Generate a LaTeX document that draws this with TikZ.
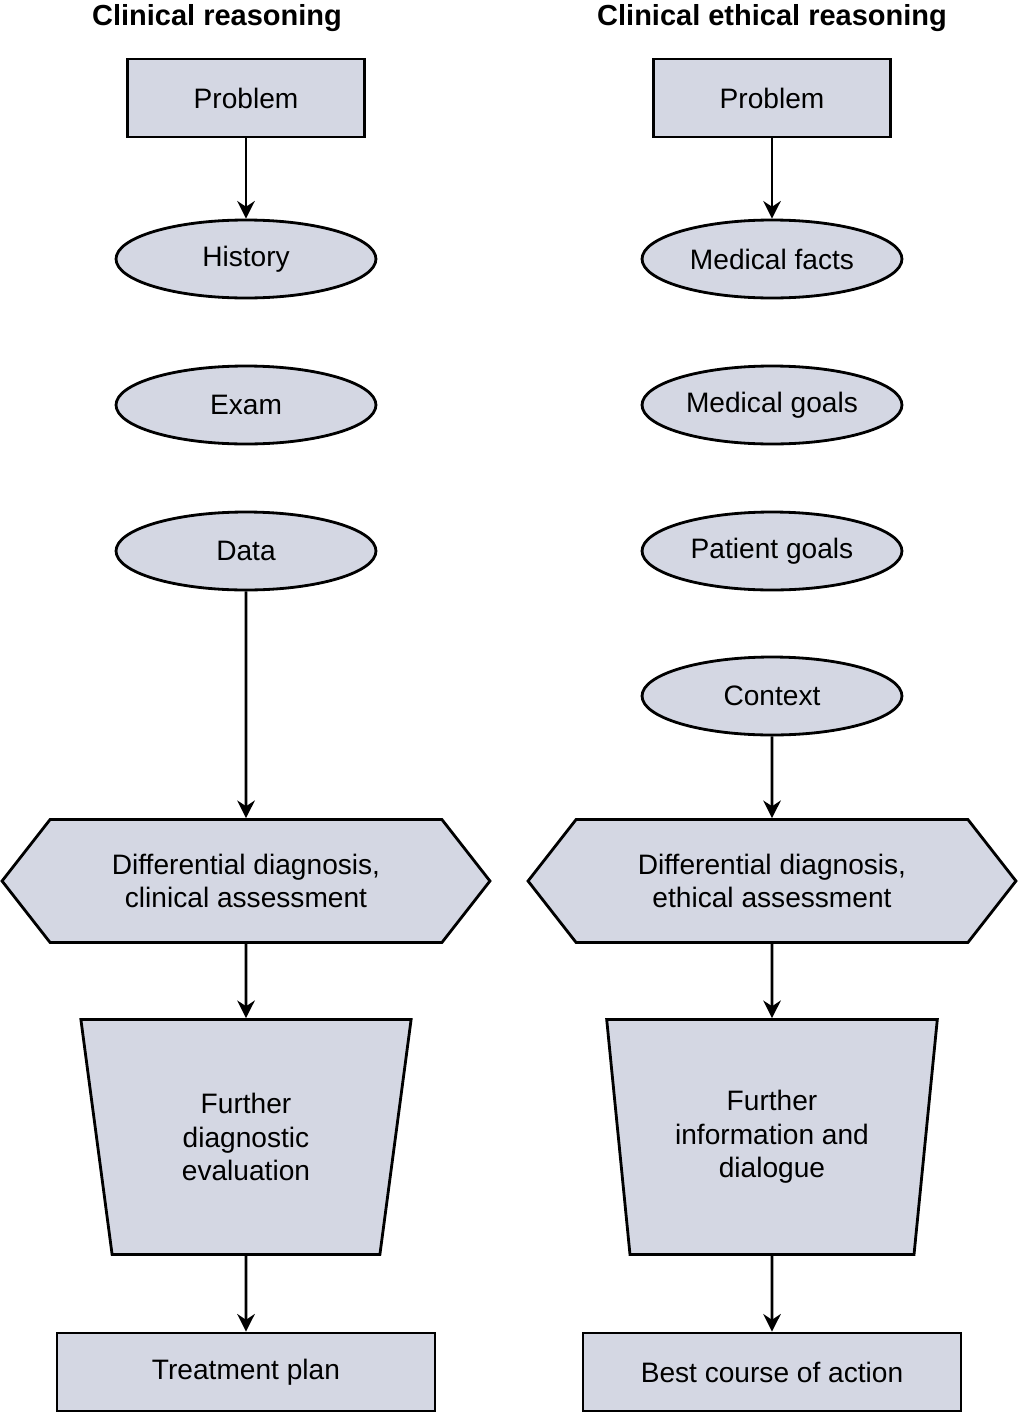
\documentclass[tikz,border=0pt]{standalone}
\usepackage{fontspec}
\setmainfont{Liberation Sans}
\usetikzlibrary{shapes.geometric,shapes.symbols,arrows.meta}
\definecolor{boxfill}{RGB}{212,215,227}
\begin{document}
\begin{tikzpicture}[x=0.02cm,y=-0.02cm,
    every node/.style={font=\fontsize{16}{19}\selectfont, align=center, draw, line width=1.6pt, fill=boxfill, inner sep=0pt},
    title/.style={draw=none, fill=none, font=\fontsize{16.5}{19}\selectfont\bfseries},
    rect/.style={rectangle, minimum width=4.74cm, minimum height=1.56cm},
    oval/.style={ellipse, minimum width=5.2cm, minimum height=1.56cm},
    hex/.style={signal, signal to=west and east, signal pointer angle=104, minimum width=9.76cm, minimum height=2.46cm},
    trap/.style={trapezium, shape border rotate=180, trapezium angle=80.3, trapezium stretches=true, minimum width=6.62cm, minimum height=4.7cm},
    final/.style={rectangle, minimum width=7.56cm, minimum height=1.56cm},
    link/.style={line width=1.6pt, -{Stealth[length=10pt,width=10pt]}}]
    \useasboundingbox (0,0) rectangle (1018,1413);

    % clinical reasoning
    \node[title] (ltitle) at (217,18) {Clinical reasoning};
    \node[rect] (lprob) at (246,98) {Problem};
    \node[oval] (lhist) at (246,259) {History};
    \node[oval] (lexam) at (246,405) {Exam};
    \node[oval] (ldata) at (246,551) {Data};
    \node[hex] (ldiff) at (246,881) {Differential diagnosis,\\clinical assessment};
    \node[trap] (lfurth) at (246,1137) {Further\\diagnostic\\evaluation};
    \node[final] (lplan) at (246,1372) {Treatment plan};

    \draw[link] (lprob) -- (lhist);
    \draw[link] (ldata) -- (ldiff);
    \draw[link] (ldiff) -- (lfurth);
    \draw[link] (lfurth) -- (lplan);

    % clinical ethical reasoning
    \node[title] (rtitle) at (772,18) {Clinical ethical reasoning};
    \node[rect] (rprob) at (772,98) {Problem};
    \node[oval] (rfacts) at (772,259) {Medical facts};
    \node[oval] (rmgoals) at (772,405) {Medical goals};
    \node[oval] (rpgoals) at (772,551) {Patient goals};
    \node[oval] (rctx) at (772,696) {Context};
    \node[hex] (rdiff) at (772,881) {Differential diagnosis,\\ethical assessment};
    \node[trap] (rfurth) at (772,1137) {Further\\information and\\dialogue};
    \node[final] (rplan) at (772,1372) {Best course of action};

    \draw[link] (rprob) -- (rfacts);
    \draw[link] (rctx) -- (rdiff);
    \draw[link] (rdiff) -- (rfurth);
    \draw[link] (rfurth) -- (rplan);
\end{tikzpicture}
\end{document}
